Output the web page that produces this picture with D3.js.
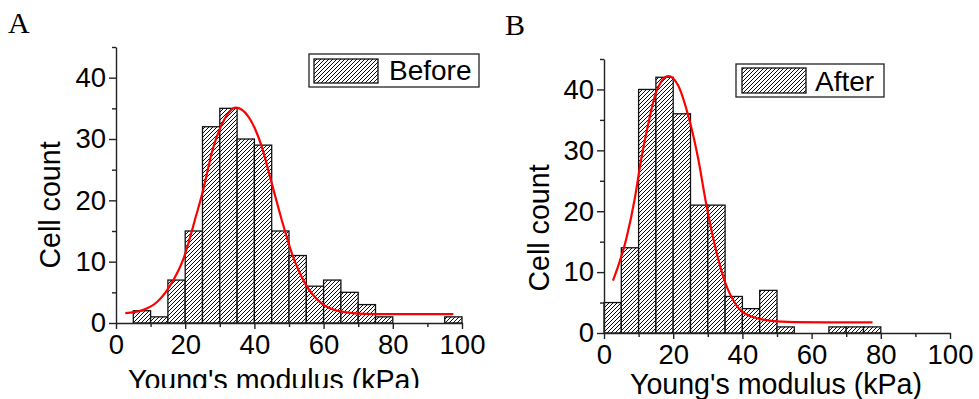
<!DOCTYPE html>
<html>
<head>
<meta charset="utf-8">
<script src="https://cdn.jsdelivr.net/npm/d3@7"></script>
<style>
    body { margin: 0; background: #fff; }
    svg { display: block; }
    .tick text { font-family: "Liberation Sans", Arial, sans-serif; font-size: 27.5px; fill: #000; }
    .title { font-family: "Liberation Sans", Arial, sans-serif; font-size: 28.6px; fill: #000; }
    .panel-label { font-family: "Liberation Serif", "Times New Roman", serif; font-size: 30px; fill: #000; }
</style>
</head>
<body>
<div id="chart"></div>
<script>
// histogram bins: 5 kPa wide, starting at 0
var binStarts = [0, 5, 10, 15, 20, 25, 30, 35, 40, 45, 50, 55, 60, 65, 70, 75, 80, 85, 90, 95];
var binWidth = 5;
var beforeCounts = [0, 2, 1, 7, 15, 32, 35, 30, 29, 15, 11, 6, 7, 5, 3, 1, 0, 0, 0, 1];
var afterCounts = [5, 14, 40, 42, 36, 21, 21, 6, 4, 7, 1, 0, 0, 1, 1, 1, 0, 0, 0, 0];

// gaussian fit curves as [kPa, count]
var beforeFit = [[2.7, 1.6], [7.7, 2.1], [11.6, 3.3], [15.4, 5.9], [19.7, 10.8], [23.1, 17.4],
    [25.2, 21.7], [27.9, 28.2], [30.8, 32.6], [34.6, 35.1], [38.2, 33.7], [42.1, 28.8],
    [45.0, 22.8], [47.9, 16.8], [50.8, 11.4], [54.6, 6.5], [59.4, 3.2], [65.2, 1.85],
    [71.9, 1.5], [80, 1.45], [90, 1.45], [97.5, 1.45]];
var afterFit = [[2.6, 8.6], [6.5, 15.6], [8.9, 22.1], [10.8, 28.7], [12.7, 34.1], [15.1, 39.6],
    [18.6, 42.2], [21.4, 40.7], [24.3, 35.8], [27.2, 28.7], [29.6, 21.0], [32.0, 14.5],
    [34.9, 8.5], [38.2, 4.6], [42.6, 2.7], [48.4, 2.0], [55, 1.8], [65, 1.75], [77.6, 1.75]];

var xTicks = [0, 20, 40, 60, 80, 100];
var xMinorTicks = [10, 30, 50, 70, 90];
var yTicks = [0, 10, 20, 30, 40];
var yMinorTicks = [5, 15, 25, 35, 45];
var xTitle = "Young's modulus (kPa)";
var yTitle = "Cell count";

var svg = d3.select('#chart').append('svg')
    .attr('width', 979)
    .attr('height', 399);

var defs = svg.append('defs');
defs.append('pattern')
    .attr('id', 'hatch')
    .attr('patternUnits', 'userSpaceOnUse')
    .attr('width', 4)
    .attr('height', 4)
    .call(function (p) {
        p.append('rect').attr('width', 4).attr('height', 4).attr('fill', '#fff');
        p.append('path')
            .attr('d', 'M-1,1 L1,-1 M0,4 L4,0 M3,5 L5,3')
            .attr('stroke', '#000')
            .attr('stroke-width', 0.95);
    });
defs.append('clipPath')
    .attr('id', 'clipLeftTitle')
    .append('rect')
    .attr('x', 0).attr('y', 0).attr('width', 490).attr('height', 388);

var panels = [
    {
        label: 'A', labelX: 8, labelY: 33,
        left: 116, right: 462, bottom: 323, top: 47,
        counts: beforeCounts, fit: beforeFit, name: 'Before',
        legend: {x: 309, y: 54, w: 170, h: 33, px: 314, py: 59, pw: 64, ph: 24, tx: 389, ty: 80},
        yTitleX: 60, yTitleY: 205,
        xTitleX: 274, xTitleY: 389.5, clip: true
    },
    {
        label: 'B', labelX: 505, labelY: 35,
        left: 604, right: 950, bottom: 333, top: 59,
        counts: afterCounts, fit: afterFit, name: 'After',
        legend: {x: 736, y: 64, w: 148, h: 33, px: 742, py: 68, pw: 64, ph: 25, tx: 815, ty: 91},
        yTitleX: 549, yTitleY: 228,
        xTitleX: 776, xTitleY: 393.5, clip: false
    }
];

panels.forEach(function (p) {
    var g = svg.append('g');
    var x = d3.scaleLinear().domain([0, 100]).range([p.left, p.right]);
    var y = d3.scaleLinear().domain([0, 45]).range([p.bottom, p.top]);

    var bins = binStarts.map(function (s, i) {
        return {start: s, count: p.counts[i]};
    }).filter(function (d) { return d.count > 0; });

    g.append('g')
        .selectAll('rect')
        .data(bins)
        .enter()
        .append('rect')
        .attr('x', function (d) { return x(d.start); })
        .attr('y', function (d) { return y(d.count); })
        .attr('width', function (d) { return x(d.start + binWidth) - x(d.start); })
        .attr('height', function (d) { return y(0) - y(d.count); })
        .attr('fill', 'url(#hatch)')
        .attr('stroke', '#111')
        .attr('stroke-width', 1.3);

    // axes
    g.append('g')
        .attr('transform', 'translate(' + p.left + ',0)')
        .call(d3.axisLeft(y).tickValues(yTicks).tickSize(7).tickSizeOuter(0).tickPadding(3));
    g.append('g')
        .attr('transform', 'translate(' + p.left + ',0)')
        .call(d3.axisLeft(y).tickValues(yMinorTicks).tickSize(4).tickSizeOuter(0).tickFormat(''))
        .select('.domain').remove();
    g.append('g')
        .attr('transform', 'translate(0,' + p.bottom + ')')
        .call(d3.axisBottom(x).tickValues(xTicks).tickSize(6).tickSizeOuter(0).tickPadding(5));
    g.append('g')
        .attr('transform', 'translate(0,' + p.bottom + ')')
        .call(d3.axisBottom(x).tickValues(xMinorTicks).tickSize(4).tickSizeOuter(0).tickFormat(''))
        .select('.domain').remove();
    g.selectAll('.domain, .tick line')
        .attr('stroke', '#222')
        .attr('stroke-width', 1.4);

    // fit
    var line = d3.line()
        .x(function (d) { return x(d[0]); })
        .y(function (d) { return y(d[1]); })
        .curve(d3.curveMonotoneX);
    g.append('path')
        .datum(p.fit)
        .attr('d', line)
        .attr('fill', 'none')
        .attr('stroke', '#ff0000')
        .attr('stroke-width', 2.2);

    // legend
    var L = p.legend;
    g.append('rect')
        .attr('x', L.x).attr('y', L.y).attr('width', L.w).attr('height', L.h)
        .attr('fill', '#fff').attr('stroke', '#222').attr('stroke-width', 1.3);
    g.append('rect')
        .attr('x', L.px).attr('y', L.py).attr('width', L.pw).attr('height', L.ph)
        .attr('fill', 'url(#hatch)').attr('stroke', '#111').attr('stroke-width', 1.3);
    g.append('text')
        .attr('class', 'title')
        .attr('x', L.tx).attr('y', L.ty)
        .style('font-size', '28px')
        .text(p.name);

    // titles
    g.append('text')
        .attr('class', 'title')
        .attr('text-anchor', 'middle')
        .attr('transform', 'translate(' + p.yTitleX + ',' + p.yTitleY + ') rotate(-90)')
        .text(yTitle);
    g.append('text')
        .attr('class', 'title')
        .attr('text-anchor', 'middle')
        .attr('x', p.xTitleX)
        .attr('y', p.xTitleY)
        .attr('clip-path', p.clip ? 'url(#clipLeftTitle)' : null)
        .text(xTitle);
    g.append('text')
        .attr('class', 'panel-label')
        .attr('x', p.labelX)
        .attr('y', p.labelY)
        .text(p.label);
});
</script>
</body>
</html>
